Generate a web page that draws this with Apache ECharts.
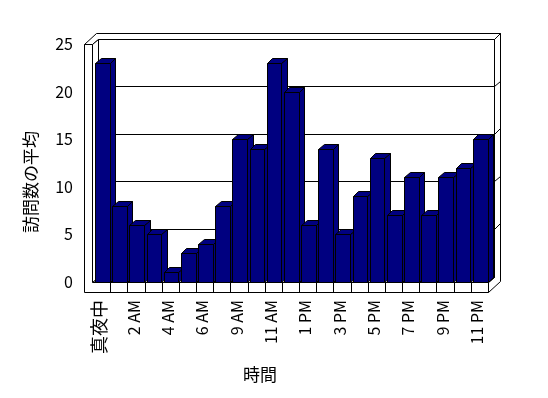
<!DOCTYPE html>
<html><head><meta charset="utf-8">
<script src="https://cdn.jsdelivr.net/npm/echarts@6/dist/echarts.min.js"></script>
<style>html,body{margin:0;padding:0;background:#fff}#c{width:548px;height:398px}</style>
</head><body><div id="c"></div>
<script>
const categories = ['真夜中','1 AM','2 AM','3 AM','4 AM','5 AM','6 AM','7 AM','9 AM','10 AM','11 AM','正午','1 PM','2 PM','3 PM','4 PM','5 PM','6 PM','7 PM','8 PM','9 PM','10 PM','11 PM'];
const visits = [23,8,6,5,1,3,4,8,15,14,23,20,6,14,5,9,13,7,11,7,11,12,15];
const yTicks = [0,5,10,15,20,25];
const xTitle = '時間';
const yTitle = '訪問数の平均';

const FONT = "'Noto Sans CJK JP', sans-serif";
const px = v => Math.round(v) + 0.5;
const P = (x, y) => [px(x), px(y)];
const LINE = {fill: '#fff', stroke: '#000', lineWidth: 1};

const chart = echarts.init(document.getElementById('c'), null, {renderer: 'canvas'});

function frameItem(params, api) {
  if (params.dataIndex !== 0) return;
  const cs = params.coordSys;
  const X0 = cs.x, X1 = cs.x + cs.width;
  const Y0 = api.coord([0, yTicks[0]])[1];
  const YT = api.coord([0, yTicks[yTicks.length - 1]])[1];
  const band = api.size([1, 0])[0];
  const DX = 6, DY = -5.5, H = 9.5;
  const WL = X0 - 9, WI = X0 - 1;
  const ch = [];
  ch.push({type: 'polygon', shape: {points: [P(WI+DX, YT+DY), P(X1+DX, YT+DY), P(X1+DX, Y0+DY), P(WI+DX, Y0+DY)]}, style: LINE});
  yTicks.slice(1, -1).forEach(v => {
    const y = api.coord([0, v])[1];
    ch.push({type: 'polyline', shape: {points: [P(WI+DX, y+DY), P(X1+DX, y+DY), P(X1+2*DX, y+2*DY)]}, style: {stroke: '#000', lineWidth: 1, fill: null}});
  });
  ch.push({type: 'polygon', shape: {points: [P(WL, YT), P(WI, YT), P(WI+DX, YT+DY), P(X1+DX, YT+DY), P(X1+2*DX, YT+2*DY), P(WL+2*DX, YT+2*DY)]}, style: LINE});
  ch.push({type: 'polygon', shape: {points: [P(X1+DX, YT+DY), P(X1+2*DX, YT+2*DY), P(X1+2*DX, Y0+H+2*DY), P(X1, Y0+H), P(X1, Y0), P(X1+DX, Y0+DY)]}, style: {fill: 'none', stroke: '#000', lineWidth: 1}});
  ch.push({type: 'polygon', shape: {points: [P(WI, Y0), P(X1, Y0), P(X1+DX, Y0+DY), P(WI+DX, Y0+DY)]}, style: LINE});
  ch.push({type: 'polygon', shape: {points: [P(WI, YT), P(WI+DX, YT+DY), P(WI+DX, Y0+DY), P(WI, Y0)]}, style: LINE});
  ch.push({type: 'polygon', shape: {points: [P(WL, YT), P(WI, YT), P(WI, Y0), P(X1, Y0), P(X1, Y0+H), P(WL, Y0+H)]}, style: LINE});
  for (let k = 1; k < categories.length; k++) {
    const x = X0 + k * band;
    ch.push({type: 'line', shape: {x1: px(x), y1: px(Y0), x2: px(x), y2: px(Y0+H)}, style: {stroke: '#000', lineWidth: 1}});
  }
  return {type: 'group', children: ch};
}

function barItem(params, api) {
  const i = api.value(0), v = api.value(1);
  const c = api.coord([i, v]);
  const b = api.coord([i, 0]);
  const band = api.size([1, 0])[0];
  const DX = 5.5, DY = -5;
  const L = c[0] - band/2 + 2, R = L + band - 2.5;
  const T = c[1], B = b[1];
  const st = {fill: '#000080', stroke: '#000', lineWidth: 1};
  return {type: 'group', children: [
    {type: 'polygon', shape: {points: [P(R, T), P(R+DX, T+DY), P(R+DX, B+DY), P(R, B)]}, style: st},
    {type: 'polygon', shape: {points: [P(L, T), P(R, T), P(R+DX, T+DY), P(L+DX, T+DY)]}, style: st},
    {type: 'polygon', shape: {points: [P(L, T), P(R, T), P(R, B), P(L, B)]}, style: st}
  ]};
}

chart.setOption({
  animation: false,
  backgroundColor: '#fff',
  grid: {left: 93, right: 60, top: 44, bottom: 116},
  xAxis: {
    type: 'category', data: categories,
    axisLine: {show: false}, axisTick: {show: false},
    axisLabel: {
      interval: 1, rotate: 90, margin: 18, color: '#000', fontFamily: FONT, fontSize: 16,
      padding: [0, 0, 5, 0],
      formatter: v => /^[0-9]/.test(v) ? v : '{c|' + v + '}',
      rich: {c: {fontSize: 18, fontFamily: FONT, color: '#000'}}
    }
  },
  yAxis: {
    type: 'value', min: yTicks[0], max: yTicks[yTicks.length-1], interval: 5,
    axisLine: {show: false}, axisTick: {show: false}, splitLine: {show: false},
    axisLabel: {margin: 20, color: '#000', fontFamily: FONT, fontSize: 16}
  },
  graphic: [
    {type: 'text', left: 243, top: 366, style: {text: xTitle, font: '17px ' + FONT, fill: '#000'}},
    {type: 'text', x: 22, y: 233, rotation: Math.PI/2, style: {text: yTitle, font: '17px ' + FONT, fill: '#000', textVerticalAlign: 'top'}}
  ],
  series: [
    {type: 'custom', renderItem: frameItem, data: [[0, 0]], z: 1, silent: true},
    {type: 'custom', renderItem: barItem, data: visits.map((v, i) => [i, v]), encode: {x: 0, y: 1}, z: 2}
  ]
});
</script></body></html>
